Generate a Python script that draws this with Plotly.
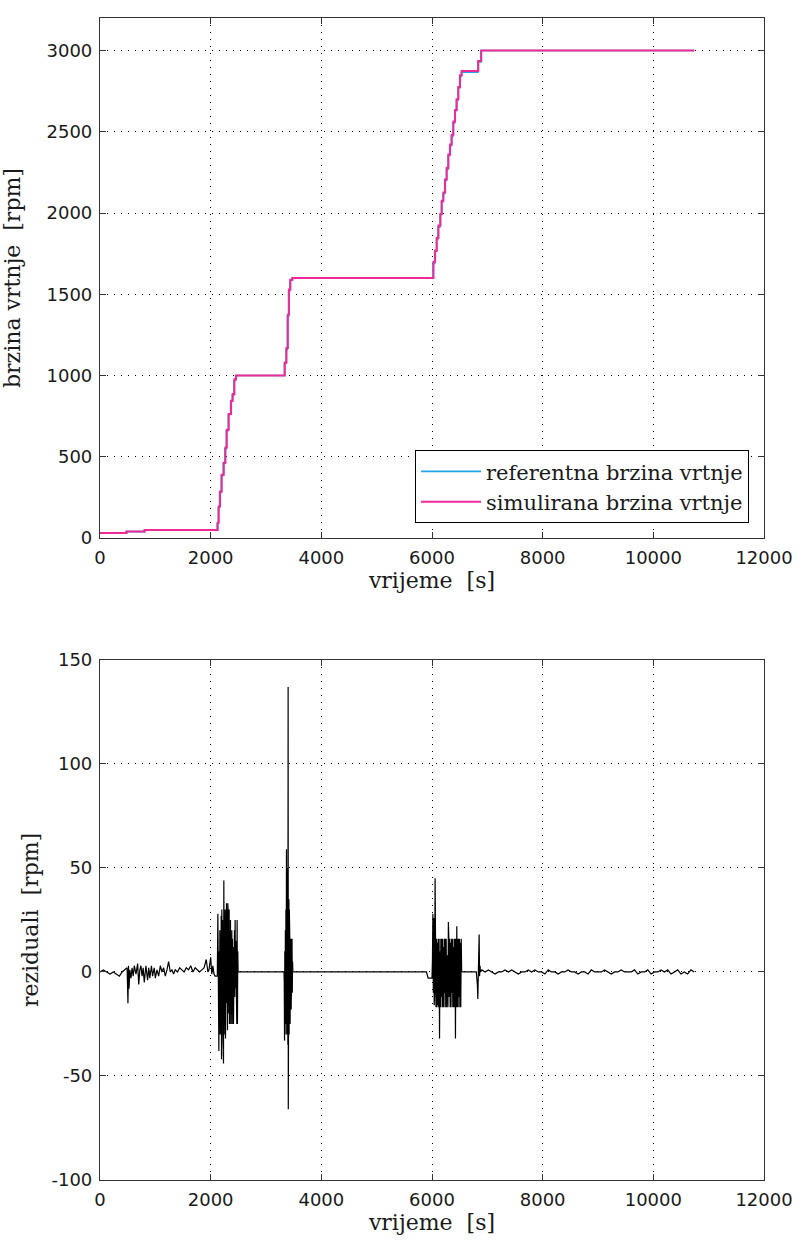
import plotly.graph_objects as go

# ---------------- top plot data: rotational speed [rpm] ----------------
sim_t = [0, 480, 810, 2128, 2146, 2170, 2200, 2237, 2267, 2291, 2327, 2369, 2399, 2429, 2459,
         3340, 3370, 3395, 3415, 3440, 3478,
         6027, 6057, 6087, 6117, 6153, 6177, 6207, 6237, 6267, 6297, 6327, 6357, 6387, 6417,
         6447, 6477, 6507, 6537, 6836, 6890, 10740]
sim_v = [32, 41, 50, 94, 195, 287, 390, 463, 557, 667, 764, 845, 886, 977, 1000,
         1080, 1170, 1374, 1530, 1590, 1600,
         1700, 1770, 1846, 1923, 1994, 2075, 2126, 2207, 2278, 2360, 2421, 2482, 2563, 2634,
         2700, 2776, 2848, 2874, 2935, 3000, 3000]

ref_t = [0, 470, 800, 2118, 2138, 2160, 2192, 2228, 2258, 2283, 2318, 2360, 2390, 2420, 2452,
         3332, 3362, 3386, 3408, 3432, 3470,
         6018, 6050, 6080, 6110, 6145, 6170, 6200, 6230, 6260, 6290, 6320, 6350, 6380, 6410,
         6440, 6470, 6500, 6530, 6830, 6884, 10740]
ref_v = [30, 40, 50, 90, 190, 280, 385, 460, 550, 660, 760, 840, 880, 970, 1000,
         1075, 1160, 1365, 1520, 1585, 1600,
         1690, 1765, 1840, 1915, 1990, 2070, 2120, 2200, 2270, 2355, 2415, 2475, 2555, 2630,
         2695, 2770, 2840, 2866, 2930, 3000, 3000]

# ---------------- bottom plot data: residuals [rpm] ----------------
res_pre_t = [0, 60, 120, 180, 240, 300, 350, 400, 450, 490, 505, 515, 525, 540, 560,
             580, 600, 620, 650, 680, 700, 720, 740, 760, 780, 800, 830, 860, 880, 900,
             930, 950, 980, 1000, 1030, 1060, 1090, 1120, 1150, 1180, 1210, 1240, 1270, 1300, 1330,
             1360, 1400, 1440, 1480, 1520, 1560, 1600, 1640, 1680, 1720, 1760, 1800, 1840, 1880, 1920,
             1950, 1970, 2000, 2020, 2040, 2060, 2080, 2100, 2120]
res_pre_v = [0, 1, 0, -1, 0, -1, -2, 0, 1, 2, -15, 3, -8, 1, -3,
             2, -2, 3, -1, 4, -6, 1, 3, -2, 2, -5, 3, -4, 2, -3,
             3, -2, 2, -3, 1, -2, 3, 0, 2, -2, 1, 5, 0, 1, -1,
             1, 0, 2, 1, 0, 2, 1, 3, 0, 2, 1, 0, 1, 2, 6,
             0, 1, 7, -1, 3, -1, -2, -2, -2]

res_b1_t = [2130, 2136, 2142, 2148, 2154, 2160, 2166, 2172, 2178, 2184,
            2190, 2196, 2202, 2208, 2214, 2220, 2226, 2232, 2238, 2244,
            2250, 2256, 2262, 2268, 2274, 2280, 2286, 2292, 2298, 2304,
            2310, 2316, 2322, 2328, 2334, 2340, 2346, 2352, 2358, 2364,
            2370, 2376, 2382, 2388, 2394, 2400, 2406, 2412, 2418, 2424,
            2430, 2436, 2442, 2448, 2454, 2460, 2466, 2472, 2478, 2484,
            2490, 2496]
res_b1_v = [28, -20, 22, -38, 10, -25, 20, -30, 15, -21,
            27, -42, 30, -18, 25, -30, 30, -44, 44, -30,
            25, -25, 30, -32, 24, -20, 33, -15, 30, -28,
            33, -16, 25, -20, 30, -25, 20, -17, 25, -25,
            15, -20, 20, -25, 16, -17, 12, -25, 16, -10,
            20, -12, 25, -8, 15, -5, 8, -25, 25, -25,
            10, 0]

res_b2_t = [3325, 3330, 3335, 3340, 3345, 3350, 3355, 3360, 3365, 3370,
            3375, 3380, 3385, 3390, 3395, 3400, 3403, 3406, 3410, 3414,
            3418, 3422, 3426, 3430, 3435, 3440, 3445, 3450, 3455, 3460,
            3465, 3470, 3475, 3480, 3485]
res_b2_v = [0, -5, -33, 10, -30, 20, -25, 30, -20, 59,
            -30, 45, -25, 50, -35, 137, -66, 40, -42, 35,
            -30, 30, -28, 16, -25, 15, -20, 16, -18, 14,
            -15, 16, -10, 5, 0]

res_b3_t = [5900, 5930, 5995,
            6000, 6008, 6016, 6024, 6032, 6040, 6048, 6056, 6064, 6072,
            6080, 6088, 6096, 6104, 6112, 6120, 6128, 6136, 6144, 6152,
            6160, 6168, 6176, 6184, 6192, 6200, 6208, 6216, 6224, 6232,
            6240, 6248, 6256, 6264, 6272, 6280, 6288, 6296, 6304, 6312,
            6320, 6328, 6336, 6344, 6352, 6360, 6368, 6376, 6384, 6392,
            6400, 6408, 6416, 6424, 6432, 6440, 6448, 6456, 6464, 6472,
            6480, 6488, 6496, 6504, 6512, 6520, 6528, 6536]
res_b3_v = [0, -3, -3,
            -3, 6, 28, -10, 26, -16, -10, 45, -17, -17,
            16, -17, 14, -16, 16, -17, 16, -32, 10, -17,
            16, -12, 16, -17, 16, -17, 12, -17, 16, -10,
            16, -17, 16, -17, 8, -17, -17, 24, 16, -12,
            16, -17, 14, -17, 16, -10, 16, -17, 12, -17,
            16, -17, 16, -32, 16, -17, 22, -17, 16, -17,
            16, -12, 16, -17, 14, -17, 16, 0]

res_b4_t = [6540, 6800, 6810, 6820, 6828, 6836, 6844, 6852, 6860, 6868, 6876]
res_b4_v = [0, 0, -3, -6, -13, 2, 10, 18, -2, 3, 0]

res_post_t = [6900, 6960, 7020, 7080, 7140, 7200, 7260, 7320, 7380, 7440,
              7500, 7560, 7620, 7680, 7740, 7800, 7860, 7920, 7980, 8040,
              8100, 8160, 8220, 8280, 8340, 8400, 8460, 8520, 8580, 8640,
              8700, 8760, 8820, 8880, 8940, 9000, 9060, 9120, 9180, 9240,
              9300, 9360, 9420, 9480, 9540, 9600, 9660, 9720, 9780, 9840,
              9900, 9960, 10020, 10080, 10140, 10200, 10260, 10320, 10380, 10440,
              10500, 10560, 10620, 10680, 10740]
res_post_v = [1, 0, 1, 0, -1, 0, 0, 1, 0, 1,
              0, -1, 0, 0, 1, 0, 1, 0, 0, -1,
              1, 0, 0, -1, 0, 0, 1, 0, 0, -1,
              0, 0, -1, 1, 0, 0, 0, 1, 0, -1,
              0, 0, 1, 0, 0, 0, 1, -1, 0, 0,
              1, -1, 0, 0, 1, 0, 1, -1, 0, 1,
              -1, 0, -1, 1, 0]

res_t = res_pre_t + res_b1_t + res_b2_t + res_b3_t + res_b4_t + res_post_t
res_v = res_pre_v + res_b1_v + res_b2_v + res_b3_v + res_b4_v + res_post_v

x_ticks = [0, 2000, 4000, 6000, 8000, 10000, 12000]
x_ticktext = ["0", "2000", "4000", "6000", "8000", "10000", "12000"]
y1_ticks = [0, 500, 1000, 1500, 2000, 2500, 3000]
y1_ticktext = ["0", "500", "1000", "1500", "2000", "2500", "3000"]
y2_ticks = [-100, -50, 0, 50, 100, 150]
y2_ticktext = ["-100", "-50", "0", "50", "100", "150"]

# ---------------- figure ----------------
W, H = 800, 1248
ML, MR, MT, MB = 100, 33, 7, 68
plot_h = H - MT - MB
top_bottom_px = 532
bot_top_px = 655
dom1 = [(H - MB - top_bottom_px) / plot_h, 1.0]
dom2 = [0.0, (H - MB - bot_top_px) / plot_h]

tickfont = dict(family="DejaVu Sans", size=18, color="#1a1a1a")
titlefont = dict(family="DejaVu Serif", size=22, color="#1a1a1a")

def axis(**kw):
    d = dict(showline=True, linecolor="#333333", linewidth=1.2, mirror="allticks",
             ticks="inside", ticklen=6, tickcolor="#333333", tickwidth=1.2,
             showgrid=True, gridcolor="#000000", gridwidth=1, griddash="1px,6px",
             zeroline=False, tickfont=tickfont, ticklabelstandoff=3)
    d.update(kw)
    return d

fig = go.Figure()
fig.add_trace(go.Scatter(x=ref_t, y=ref_v, mode="lines", name="referentna brzina vrtnje",
                         line=dict(color="#1fa6e6", width=1.6, shape="hv"),
                         xaxis="x", yaxis="y"))
fig.add_trace(go.Scatter(x=sim_t, y=sim_v, mode="lines", name="simulirana brzina vrtnje",
                         line=dict(color="#ee2a98", width=2, shape="hv"),
                         xaxis="x", yaxis="y"))
fig.add_trace(go.Scatter(x=res_t, y=res_v, mode="lines", showlegend=False,
                         line=dict(color="#000000", width=1.2),
                         xaxis="x2", yaxis="y2"))

fig.update_layout(
    width=W, height=H,
    margin=dict(l=ML, r=MR, t=MT, b=MB),
    paper_bgcolor="white", plot_bgcolor="white",
    xaxis=axis(domain=[0, 1], anchor="y", range=[0, 12000], tickvals=x_ticks, ticktext=x_ticktext,
               title=dict(text="vrijeme\u00a0\u00a0[s]", font=titlefont, standoff=4)),
    yaxis=axis(domain=dom1, anchor="x", range=[0, 3200], tickvals=y1_ticks, ticktext=y1_ticktext,
               title=dict(text="brzina vrtnje\u00a0\u00a0[rpm]", font=titlefont, standoff=20)),
    xaxis2=axis(domain=[0, 1], anchor="y2", range=[0, 12000], tickvals=x_ticks, ticktext=x_ticktext,
                title=dict(text="vrijeme\u00a0\u00a0[s]", font=titlefont, standoff=4)),
    yaxis2=axis(domain=dom2, anchor="x2", range=[-100, 150], tickvals=y2_ticks, ticktext=y2_ticktext,
                title=dict(text="reziduali\u00a0\u00a0[rpm]", font=titlefont, standoff=6)),
    legend=dict(x=0.9775, y=(H - MB - 517) / plot_h, xanchor="right", yanchor="bottom",
                bgcolor="white", bordercolor="#000000", borderwidth=1,
                font=dict(family="DejaVu Serif", size=21, color="#1a1a1a"),
                tracegroupgap=0, itemwidth=60),
    showlegend=True,
)

fig.write_html("out.html", post_script="document.body.style.margin='0';",
               config={"displayModeBar": False})
